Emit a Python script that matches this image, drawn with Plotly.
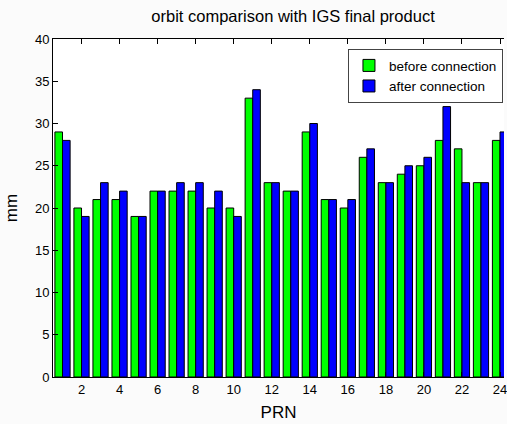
import plotly.graph_objects as go

prn = list(range(1, 25))
before = [29, 20, 21, 21, 19, 22, 22, 22, 20, 20, 33, 23, 22, 29, 21, 20, 26, 23, 24, 25, 28, 27, 23, 28]
after = [28, 19, 23, 22, 19, 22, 23, 23, 22, 19, 34, 23, 22, 30, 21, 21, 27, 23, 25, 26, 32, 23, 23, 29]
x_ticks = list(range(2, 25, 2))
y_ticks = list(range(0, 41, 5))

fig = go.Figure()
fig.add_trace(go.Bar(x=prn, y=before, name="before connection",
                     marker=dict(color="#00ff00", line=dict(color="black", width=1))))
fig.add_trace(go.Bar(x=prn, y=after, name="after connection",
                     marker=dict(color="#0000ff", line=dict(color="black", width=1))))

fig.update_layout(
    width=507, height=424,
    margin=dict(l=53, r=0, t=39, b=47),
    paper_bgcolor="#fbfbfb", plot_bgcolor="white",
    barmode="group", bargap=0.2, bargroupgap=0,
    font=dict(family="Arial, Liberation Sans, sans-serif", color="black"),
    title=dict(text="orbit comparison with IGS final product", x=0.578, xanchor="center",
               y=0.962, yanchor="middle", font=dict(size=16.5)),
    showlegend=True,
    legend=dict(x=0.654, y=0.97, xanchor="left", yanchor="top",
                bgcolor="white", bordercolor="#444", borderwidth=1,
                font=dict(size=13.5), tracegroupgap=0, itemwidth=30),
)
fig.update_xaxes(range=[0.5, 24.21], tickmode="array", tickvals=x_ticks,
                 ticks="inside", ticklen=5, tickcolor="black",
                 showline=True, linecolor="black", linewidth=1, mirror="ticks",
                 showgrid=False, zeroline=False, ticklabeloverflow="allow",
                 tickfont=dict(size=13),
                 title=dict(text="PRN", font=dict(size=17), standoff=10))
fig.update_yaxes(range=[0, 40], tickmode="array", tickvals=y_ticks,
                 ticks="inside", ticklen=5, tickcolor="black",
                 showline=True, linecolor="black", linewidth=1, mirror=False,
                 showgrid=False, zeroline=False,
                 tickfont=dict(size=13),
                 title=dict(text="mm", font=dict(size=17), standoff=12))

fig.write_html("out.html", config={"displayModeBar": False},
               post_script="document.body.style.margin='0px';document.body.style.overflow='hidden';")
